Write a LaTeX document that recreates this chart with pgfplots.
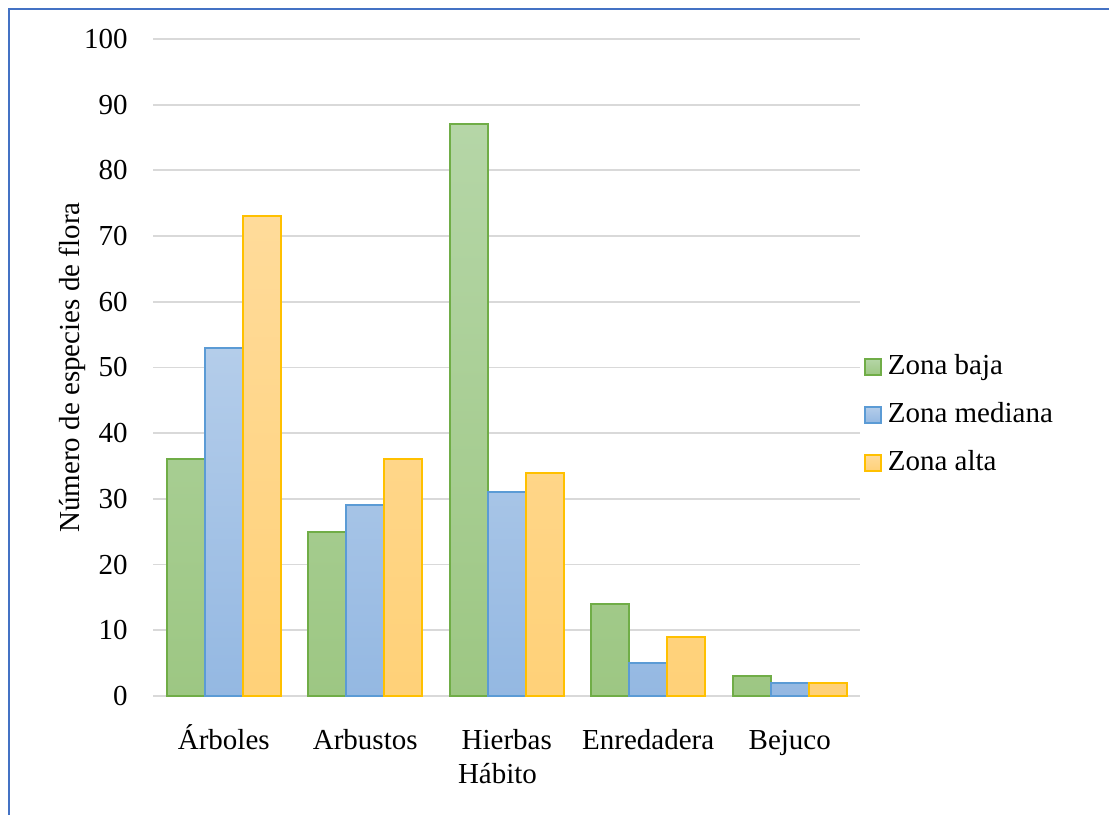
\documentclass[border=0pt]{standalone}
\usepackage{fontspec}
\setmainfont{Liberation Serif}
\usepackage{pgfplots}
\pgfplotsset{compat=1.18}

\definecolor{gridgray}{HTML}{D9D9D9}
\definecolor{frameblue}{HTML}{4472C4}
\definecolor{greenedge}{HTML}{70AD47}
\definecolor{greentop}{HTML}{B5D6A7}
\definecolor{greenbot}{HTML}{9DC783}
\definecolor{blueedge}{HTML}{5B9BD5}
\definecolor{bluetop}{HTML}{B4CDEA}
\definecolor{bluebot}{HTML}{94B8E2}
\definecolor{yellowedge}{HTML}{FFC000}
\definecolor{yellowtop}{HTML}{FFDB9A}
\definecolor{yellowbot}{HTML}{FFD178}

\newcommand{\chartfont}{\fontsize{14.5}{17.4}\selectfont}

% square legend swatch, with a little room before the entry text
\pgfplotsset{
  sqlegend/.style={
    legend image code/.code={
      \draw[##1, line width=0.75pt] (0pt,0pt) rectangle (8pt,8pt);
      \pgfpathmoveto{\pgfqpoint{11.5pt}{0pt}}\pgfusepath{discard}
    }
  }
}

\begin{document}
\begin{tikzpicture}
% page: 554.5pt x 407.5pt
\useasboundingbox (0pt,0pt) rectangle (554.5pt,407.5pt);
\draw[frameblue, line width=1pt] (4.25pt,0pt) -- (4.25pt,402.75pt) -- (554.5pt,402.75pt);
\begin{axis}[
  at={(76.5pt,59.5pt)}, anchor=south west,
  scale only axis, width=353.75pt, height=328.5pt,
  ymin=0, ymax=100, ytick={0,10,...,100},
  xmin=-0.5, xmax=4.5, xtick={0,1,2,3,4},
  xticklabels={Árboles,Arbustos,Hierbas,Enredadera,Bejuco},
  ybar=0pt, bar width=19.05pt,
  axis line style={draw=none},
  tick style={draw=none},
  ymajorgrids, grid style={gridgray, line width=0.9pt},
  /pgf/number format/assume math mode=true,
  tick label style={font=\chartfont},
  label style={font=\chartfont},
  yticklabel style={anchor=east, inner sep=0pt, xshift=-12.5pt},
  xticklabel style={anchor=base, inner sep=0pt, yshift=-22.35pt},
  ylabel={Número de especies de flora},
  ylabel style={at={(axis description cs:-0.1032,0.5)}, anchor=base, inner sep=0pt},
  xlabel={Hábito},
  xlabel style={at={(axis description cs:0.4869,-0.1339)}, anchor=base, inner sep=0pt},
  legend cell align=left,
  legend style={at={(axis description cs:1.005,0.4262)}, anchor=west,
    draw=none, fill=none, inner sep=0pt, outer sep=0pt, row sep=11pt,
    font=\chartfont,
    nodes={inner sep=0pt, text height=10pt, text depth=3pt, anchor=base west}},
]
\addplot[draw=greenedge, line width=1pt, top color=greentop, bottom color=greenbot, sqlegend]
  coordinates {(0,36) (1,25) (2,87) (3,14) (4,3)};
\addplot[draw=blueedge, line width=1pt, top color=bluetop, bottom color=bluebot, sqlegend]
  coordinates {(0,53) (1,29) (2,31) (3,5) (4,2)};
\addplot[draw=yellowedge, line width=1pt, top color=yellowtop, bottom color=yellowbot, sqlegend]
  coordinates {(0,73) (1,36) (2,34) (3,9) (4,2)};
\legend{Zona baja, Zona mediana, Zona alta}
\end{axis}
\end{tikzpicture}
\end{document}
